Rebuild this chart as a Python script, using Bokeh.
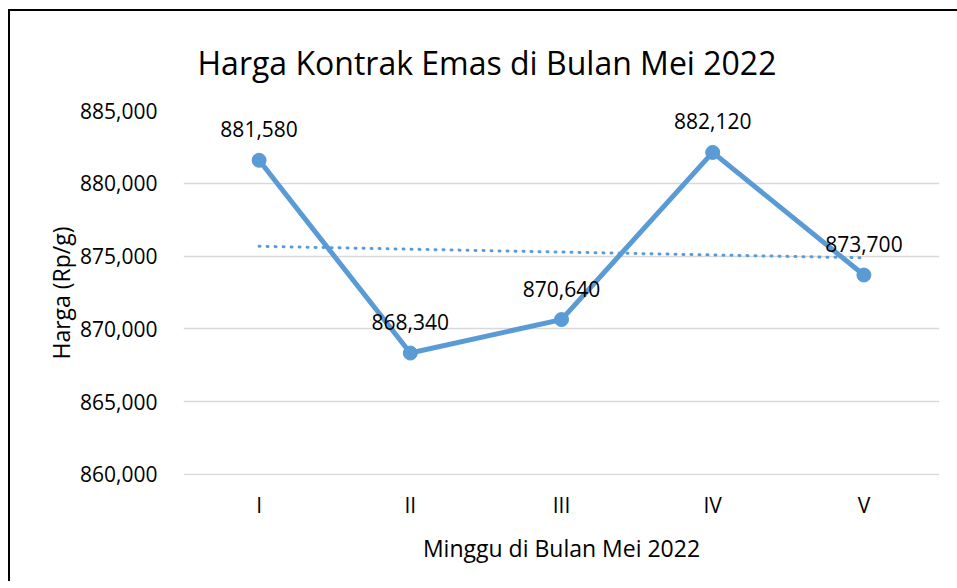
from bokeh.plotting import figure
from bokeh.models import FactorRange, Range1d, FixedTicker, NumeralTickFormatter, ColumnDataSource
from bokeh.layouts import column
from bokeh.embed import file_html
from bokeh.resources import INLINE
from bokeh.core.properties import value
import numpy as np

weeks = ["I", "II", "III", "IV", "V"]
prices = [881580, 868340, 870640, 882120, 873700]
price_labels = ["881,580", "868,340", "870,640", "882,120", "873,700"]
y_ticks = [860000, 865000, 870000, 875000, 880000, 885000]
title_text = "Harga Kontrak Emas di Bulan Mei 2022"

FONT = "Open Sans"
BLUE = "#5B9BD5"

p = figure(width=947, height=570, x_range=FactorRange(factors=weeks, range_padding=0),
           y_range=Range1d(859930, 885000), output_backend="svg", toolbar_location=None,
           min_border_left=173, min_border_right=18, min_border_top=97, min_border_bottom=106)

p.title.text = title_text
p.title.text_font = FONT
p.title.text_font_size = "32px"
p.title.text_font_style = "normal"
p.title.text_color = "#000000"
p.title.align = "left"
p.title.offset = 14
p.title.standoff = 54

p.outline_line_color = None
p.background_fill_color = "white"
p.border_fill_color = "white"

p.xgrid.grid_line_color = None
p.ygrid.grid_line_color = "#D9D9D9"
p.ygrid.grid_line_width = 1.5
p.ygrid.ticker = FixedTicker(ticks=y_ticks)

p.yaxis.ticker = FixedTicker(ticks=y_ticks)
p.yaxis.formatter = NumeralTickFormatter(format="0,0")
for ax in (p.xaxis[0], p.yaxis[0]):
    ax.axis_line_color = None
    ax.major_tick_line_color = None
    ax.minor_tick_line_color = None
    ax.major_label_text_font = FONT
    ax.major_label_text_font_size = "21px"
    ax.major_label_text_color = "#000000"
    ax.axis_label_text_font = FONT
    ax.axis_label_text_font_size = "23px"
    ax.axis_label_text_font_style = "normal"
    ax.axis_label_text_color = "#000000"

p.xaxis.axis_label = "Minggu di Bulan Mei 2022"
p.yaxis.axis_label = "Harga (Rp/g)"
p.yaxis.major_label_standoff = 20
p.xaxis.major_label_standoff = 9
p.yaxis.axis_label_standoff = 0
p.xaxis.axis_label_standoff = 10

# linear trendline from data
xs = np.arange(1, len(prices) + 1)
slope, intercept = np.polyfit(xs, prices, 1)
trend = [slope * xs[0] + intercept, slope * xs[-1] + intercept]
p.line(x=[weeks[0], weeks[-1]], y=trend, line_color=BLUE, line_width=3,
       line_dash="1 7", line_cap="round")

src = ColumnDataSource(dict(x=weeks, y=prices, lab=price_labels))
p.line("x", "y", source=src, line_color=BLUE, line_width=5, line_join="round")
p.scatter("x", "y", source=src, size=14, fill_color=BLUE, line_color=BLUE)
p.text("x", "y", text="lab", source=src, text_font=value(FONT), text_font_size="21px",
       text_color="#000000", text_align="center", text_baseline="middle", y_offset=-31)

layout = column(p, styles={"margin-left": "8px", "margin-top": "9px",
                           "border-left": "2px solid #000000", "border-top": "2px solid #000000"})

open("out.html", "w").write(file_html(layout, INLINE))
